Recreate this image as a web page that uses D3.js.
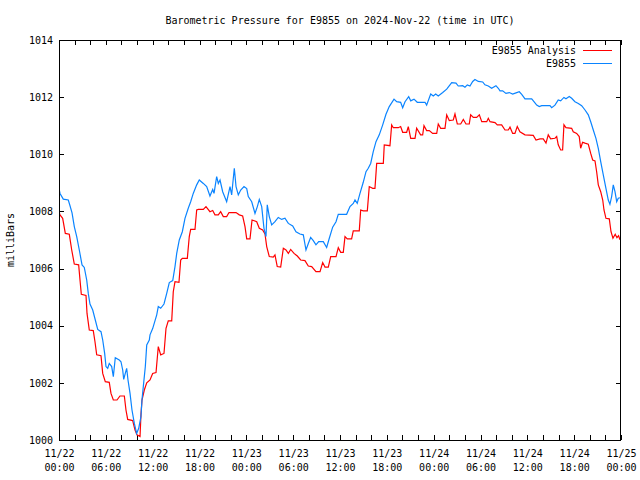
<!DOCTYPE html>
<html><head><meta charset="utf-8">
<script src="https://cdn.jsdelivr.net/npm/d3@7"></script>
<style>
body{margin:0;background:#fff}
svg{display:block}
text{font-family:"DejaVu Sans Mono","Liberation Mono",monospace;font-size:10px;fill:#000}
</style>
</head><body>
<svg id="chart" width="640" height="480"></svg>
<script>
// ---------------- data ----------------
const titleText = "Barometric Pressure for E9855 on 2024-Nov-22 (time in UTC)";
const yAxisTitle = "milliBars";
const startTime = "2024-11-22T00:00:00Z";
const spanHours = 72;
const yTickValues = [1000, 1002, 1004, 1006, 1008, 1010, 1012, 1014];
const xLabelDates = ["11/22","11/22","11/22","11/22","11/23","11/23","11/23","11/23","11/24","11/24","11/24","11/24","11/25"];
const xLabelTimes = ["00:00","06:00","12:00","18:00","00:00","06:00","12:00","18:00","00:00","06:00","12:00","18:00","00:00"];
const seriesNames = ["E9855 Analysis", "E9855"];
const seriesColors = ["#ff0000", "#0a84ff"];

// hours since 2024-11-22 00:00 UTC
const analysisHours = [0.0,0.13,0.47,0.81,1.32,1.63,1.96,2.52,2.69,2.86,3.46,3.59,3.88,4.39,4.61,4.83,5.38,5.60,5.93,6.44,6.66,6.96,7.43,7.81,8.37,8.58,8.80,9.44,9.74,9.99,10.38,10.50,10.63,10.93,11.24,11.66,12.00,12.43,12.72,13.03,13.45,13.71,14.00,14.44,14.64,14.86,15.37,15.59,15.80,16.44,16.69,16.87,17.42,17.64,17.85,18.49,18.83,19.34,19.69,19.98,20.41,20.71,21.05,21.48,21.78,22.68,23.10,23.53,23.83,24.05,24.47,24.73,25.33,25.66,26.09,26.39,26.61,26.94,27.45,27.67,27.96,28.40,28.74,29.08,29.38,29.68,30.11,30.53,30.96,31.51,31.94,32.37,32.92,33.44,33.78,34.08,34.50,34.81,35.49,35.78,36.09,36.42,36.64,36.93,37.49,37.70,38.47,38.65,38.98,39.50,39.75,40.19,40.48,40.70,41.55,41.67,42.40,42.62,42.83,43.47,43.77,44.03,44.54,44.75,45.06,45.61,45.82,46.33,46.59,46.76,47.10,47.44,47.87,48.39,48.59,48.90,49.45,49.67,50.00,50.51,50.73,51.03,51.46,51.80,52.14,52.56,52.74,53.08,53.51,53.85,54.16,54.80,55.00,55.22,55.86,56.15,56.71,57.14,57.56,57.78,58.12,58.41,58.71,59.05,59.70,60.76,61.11,61.62,62.04,62.39,62.68,62.99,63.54,63.76,63.96,64.27,64.52,64.69,64.95,65.68,65.88,66.32,66.65,66.83,67.08,67.38,67.81,68.12,68.37,68.67,68.88,69.09,69.40,69.66,69.82,70.07,70.50,70.72,70.97,71.26,71.48,71.69,71.87];
const analysisValues = [1007.99,1007.88,1007.76,1007.23,1007.20,1006.65,1006.16,1006.13,1005.60,1005.10,1005.06,1004.43,1003.85,1003.83,1003.44,1002.98,1002.95,1002.33,1002.04,1002.02,1001.63,1001.40,1001.40,1001.54,1001.54,1001.05,1000.72,1000.68,1000.35,1000.18,1000.12,1000.88,1001.40,1001.75,1002.00,1002.10,1002.33,1002.36,1003.27,1002.98,1003.03,1003.91,1004.17,1004.17,1005.19,1005.54,1005.52,1006.30,1006.36,1006.36,1007.12,1007.37,1007.37,1008.05,1008.07,1008.07,1008.17,1007.99,1008.03,1007.88,1007.88,1007.99,1007.82,1007.82,1007.96,1007.96,1007.88,1007.84,1007.47,1007.04,1007.04,1007.70,1007.64,1007.41,1007.35,1007.21,1006.77,1006.42,1006.40,1006.48,1006.07,1006.05,1006.71,1006.65,1006.53,1006.67,1006.53,1006.44,1006.30,1006.28,1006.09,1006.07,1005.89,1005.89,1006.21,1006.05,1006.05,1006.42,1006.42,1006.73,1006.57,1006.57,1007.12,1007.04,1007.04,1007.32,1007.32,1008.05,1008.02,1008.02,1008.87,1008.81,1008.81,1009.68,1009.68,1010.33,1010.30,1011.03,1010.93,1010.93,1010.97,1010.77,1010.77,1010.97,1010.56,1010.56,1010.91,1010.68,1010.68,1011.00,1010.83,1010.83,1010.73,1010.73,1011.06,1010.91,1010.91,1011.38,1011.18,1011.20,1011.41,1011.06,1011.06,1011.22,1011.06,1011.06,1011.38,1011.29,1011.29,1011.38,1011.14,1011.14,1011.26,1011.14,1011.11,1011.03,1011.03,1010.85,1010.85,1010.95,1010.73,1010.73,1010.97,1010.79,1010.68,1010.66,1010.50,1010.54,1010.54,1010.39,1010.68,1010.54,1010.56,1010.62,1010.33,1010.15,1010.15,1011.03,1010.93,1010.91,1010.79,1010.73,1010.62,1010.21,1010.42,1010.39,1010.35,1010.03,1009.80,1009.77,1009.39,1008.93,1008.69,1008.40,1008.05,1007.76,1007.74,1007.29,1007.06,1007.20,1007.08,1007.15,1007.01];

const observedHours = [0.0,0.13,0.55,1.19,1.41,1.67,1.96,2.27,2.60,2.95,3.24,3.55,3.75,3.97,4.32,4.65,4.96,5.38,5.60,5.85,6.02,6.24,6.44,6.75,6.96,7.21,7.72,7.94,8.16,8.29,8.49,8.67,8.84,9.10,9.35,9.65,9.95,10.21,10.50,10.63,10.80,11.06,11.24,11.57,11.66,12.00,12.52,12.72,13.03,13.45,13.80,14.13,14.57,14.86,15.08,15.41,15.80,16.14,16.56,16.87,17.20,17.64,17.97,18.49,18.92,19.34,19.69,19.86,20.20,20.41,20.63,20.97,21.48,21.91,22.12,22.46,22.68,22.97,23.28,23.70,24.05,24.25,24.69,25.11,25.41,25.66,25.97,26.26,26.52,26.68,26.94,27.25,27.67,28.09,28.53,28.95,29.38,29.94,30.36,30.87,31.30,31.64,31.94,32.24,32.58,32.92,33.27,33.86,34.29,34.63,35.06,35.49,35.78,36.85,37.28,37.70,37.92,38.21,38.56,38.98,39.33,39.62,39.93,40.26,40.61,41.03,41.47,41.89,42.31,42.92,43.26,43.77,44.03,44.33,44.80,45.06,45.48,45.90,46.89,47.10,47.62,47.95,48.26,48.59,49.16,49.67,50.31,50.86,51.15,51.72,52.01,52.31,52.65,53.00,53.29,53.72,54.28,54.57,55.00,55.43,55.98,56.28,56.50,56.84,57.26,57.69,58.12,58.64,58.97,59.28,59.70,60.56,60.85,61.20,61.53,61.84,62.90,63.12,63.54,63.96,64.27,64.69,64.95,65.37,65.68,66.10,66.53,66.96,67.39,67.81,68.12,68.45,68.79,69.09,69.40,69.73,70.07,70.37,70.58,70.80,71.01,71.23,71.45,71.65,71.87];
const observedValues = [1008.81,1008.63,1008.43,1008.40,1008.20,1007.95,1007.47,1007.12,1006.65,1006.13,1006.04,1005.60,1005.13,1004.76,1004.55,1004.20,1003.87,1003.79,1003.50,1003.03,1002.57,1002.51,1002.68,1002.57,1002.22,1002.88,1002.80,1002.74,1002.45,1002.12,1002.33,1002.51,1002.10,1001.63,1001.05,1000.58,1000.23,1000.41,1000.82,1001.40,1001.87,1002.57,1003.33,1003.50,1003.68,1003.90,1004.38,1004.67,1004.61,1004.76,1005.13,1005.51,1005.58,1006.07,1006.53,1007.00,1007.29,1007.76,1008.11,1008.34,1008.63,1008.93,1009.10,1008.98,1008.87,1008.54,1008.77,1008.63,1009.22,1008.98,1009.10,1008.69,1008.34,1008.87,1008.58,1009.51,1008.87,1008.58,1008.75,1008.87,1008.80,1008.52,1008.34,1007.93,1008.17,1008.42,1008.17,1007.41,1007.12,1008.23,1007.82,1007.53,1007.64,1007.79,1007.72,1007.76,1007.58,1007.49,1007.29,1007.21,1007.18,1006.65,1006.88,1007.09,1006.98,1006.83,1006.94,1006.94,1006.74,1007.06,1007.45,1007.64,1007.90,1007.90,1008.17,1008.28,1008.40,1008.28,1008.63,1009.02,1009.39,1009.51,1009.68,1010.09,1010.44,1010.68,1011.03,1011.40,1011.67,1011.93,1011.84,1011.82,1011.63,1011.84,1012.02,1011.87,1011.93,1011.82,1011.82,1011.72,1012.11,1012.04,1012.11,1012.04,1012.16,1012.28,1012.51,1012.49,1012.39,1012.40,1012.35,1012.43,1012.39,1012.55,1012.62,1012.55,1012.53,1012.43,1012.39,1012.31,1012.40,1012.31,1012.22,1012.22,1012.13,1012.16,1012.11,1012.16,1012.19,1012.10,1011.94,1011.94,1011.84,1011.72,1011.67,1011.70,1011.70,1011.63,1011.72,1011.90,1011.87,1011.99,1011.94,1012.02,1011.96,1011.84,1011.78,1011.70,1011.55,1011.38,1011.14,1010.85,1010.56,1010.21,1009.74,1009.28,1008.81,1008.40,1008.25,1008.52,1008.93,1008.69,1008.34,1008.46,1008.48];

// ---------------- chart ----------------
const svg = d3.select("#chart");
const W = 640, H = 480;
const plot = {left: 59, right: 621, top: 40, bottom: 440};

const t0 = new Date(startTime);
const toDate = h => new Date(t0.getTime() + h * 3600e3);
const t1 = toDate(spanHours);

const x = d3.scaleUtc().domain([t0, t1]).range([plot.left, plot.right]);
const y = d3.scaleLinear().domain([1000, 1014]).range([plot.bottom, plot.top]);

svg.append("rect").attr("width", W).attr("height", H).attr("fill", "#fff");

// title
svg.append("text").attr("x", 340).attr("y", 24).attr("text-anchor", "middle").text(titleText);

// y axis title
svg.append("text").attr("transform", "translate(14,240) rotate(-90)")
  .attr("text-anchor", "middle").text(yAxisTitle);

const minorTimes = d3.utcHour.every(2).range(t0, new Date(t1.getTime() + 1));
const labelTimes = d3.utcHour.every(6).range(t0, new Date(t1.getTime() + 1));

function styleAxis(g) {
  g.select(".domain").remove();
  g.selectAll(".tick line").attr("stroke", "#000").attr("shape-rendering", "crispEdges");
  g.selectAll("text").style("font-family", null).style("font-size", null);
  g.attr("font-family", null).attr("font-size", null);
}

// left axis
svg.append("g").attr("transform", `translate(${plot.left},0)`)
  .call(d3.axisLeft(y).tickValues(yTickValues).tickSizeInner(-5).tickSizeOuter(0).tickPadding(6).tickFormat(d3.format("d")))
  .call(styleAxis);
// right axis (ticks only)
svg.append("g").attr("transform", `translate(${plot.right},0)`)
  .call(d3.axisRight(y).tickValues(yTickValues).tickSizeInner(-5).tickSizeOuter(0).tickFormat(""))
  .call(styleAxis);
// top axis ticks
svg.append("g").attr("transform", `translate(0,${plot.top})`)
  .call(d3.axisTop(x).tickValues(minorTimes).tickSizeInner(-5).tickSizeOuter(0).tickFormat(""))
  .call(styleAxis);
// bottom axis ticks
svg.append("g").attr("transform", `translate(0,${plot.bottom})`)
  .call(d3.axisBottom(x).tickValues(minorTimes).tickSizeInner(-5).tickSizeOuter(0).tickFormat(""))
  .call(styleAxis);
// bottom labels
const gl = svg.append("g").attr("transform", `translate(0,${plot.bottom})`)
  .call(d3.axisBottom(x).tickValues(labelTimes).tickSize(0).tickFormat(""))
  .call(styleAxis);
gl.selectAll(".tick line").remove();
gl.selectAll(".tick text").each(function(d, i) {
  const t = d3.select(this).attr("y", null).attr("dy", null);
  t.append("tspan").attr("x", 0).attr("y", 17).text(xLabelDates[i]);
  t.append("tspan").attr("x", 0).attr("y", 31).text(xLabelTimes[i]);
});

// series
const seriesData = [
  analysisHours.map((h, i) => ({t: toDate(h), v: analysisValues[i]})),
  observedHours.map((h, i) => ({t: toDate(h), v: observedValues[i]}))
];
const line = d3.line().x(d => x(d.t)).y(d => y(d.v));
const clipId = "plotclip";
svg.append("clipPath").attr("id", clipId).append("rect")
  .attr("x", plot.left).attr("y", plot.top).attr("width", plot.right - plot.left).attr("height", plot.bottom - plot.top);
seriesData.forEach((d, i) => {
  svg.append("path").datum(d).attr("clip-path", `url(#${clipId})`)
    .attr("fill", "none").attr("stroke", seriesColors[i]).attr("stroke-width", 1.2)
    .attr("stroke-linejoin", "miter").attr("d", line);
});

// border
svg.append("rect").attr("x", plot.left + 0.5).attr("y", plot.top + 0.5)
  .attr("width", plot.right - plot.left - 1).attr("height", plot.bottom - plot.top)
  .attr("fill", "none").attr("stroke", "#000").attr("shape-rendering", "crispEdges");

// legend
const lg = svg.append("g");
seriesNames.forEach((name, i) => {
  const yy = 50 + i * 13;
  lg.append("text").attr("x", 576).attr("y", yy + 4).attr("text-anchor", "end").text(name);
  lg.append("line").attr("x1", 583).attr("x2", 612).attr("y1", yy + 0.5).attr("y2", yy + 0.5)
    .attr("stroke", seriesColors[i]).attr("stroke-width", 1).attr("shape-rendering", "crispEdges");
});
</script>
</body></html>
